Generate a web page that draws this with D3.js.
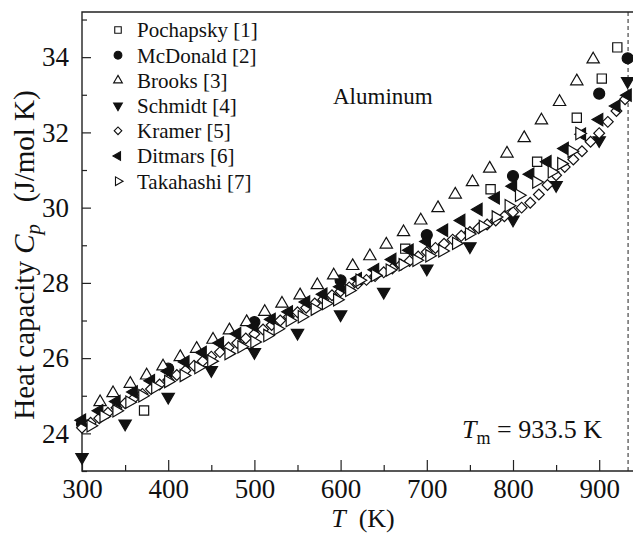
<!DOCTYPE html>
<html>
<head>
<meta charset="utf-8">
<script src="https://cdn.jsdelivr.net/npm/d3@7"></script>
<style>
  body { margin: 0; background: #fff; }
  svg text { font-family: "Liberation Serif", "Times New Roman", serif; fill: #111; }
</style>
</head>
<body>
<div id="chart"></div>
<script>
// series names (legend order)
var seriesNames = ["Pochapsky [1]", "McDonald [2]", "Brooks [3]", "Schmidt [4]", "Kramer [5]", "Ditmars [6]", "Takahashi [7]"];

// [T (K), Cp (J/mol K)]
var pochapsky = [[372, 24.61], [493, 26.38], [675, 28.91], [774, 30.49], [828, 31.22], [874, 32.39], [903, 33.43], [921, 34.26]];
var mcdonald = [[300, 24.25], [400, 25.72], [500, 26.96], [600, 28.07], [700, 29.27], [800, 30.84], [900, 33.03], [933, 33.97]];
var brooks = [[321, 24.83], [336, 25.07], [356, 25.32], [375, 25.54], [394, 25.78], [414, 26.03], [433, 26.25], [452, 26.49],
  [471, 26.74], [491, 26.96], [512, 27.23], [532, 27.45], [553, 27.67], [573, 27.94], [592, 28.2], [614, 28.45],
  [634, 28.71], [653, 29.02], [673, 29.35], [693, 29.66], [713, 29.99], [733, 30.35], [753, 30.68], [773, 31.04],
  [793, 31.44], [813, 31.85], [833, 32.32], [854, 32.81], [874, 33.36], [893, 33.94]];
var schmidt = [[300, 23.37], [350, 24.26], [400, 24.97], [450, 25.68], [500, 26.16], [550, 26.67], [600, 27.16], [650, 27.76],
  [700, 28.38], [750, 28.97], [800, 29.68], [850, 30.6], [900, 31.79], [933, 33.36]];
var kramer = [[300, 24.15], [310, 24.28], [320, 24.4], [330, 24.55], [340, 24.68], [350, 24.8], [360, 24.93], [370, 25.05],
  [380, 25.18], [390, 25.3], [400, 25.42], [410, 25.55], [420, 25.67], [430, 25.8], [440, 25.92], [450, 26.04],
  [460, 26.16], [470, 26.28], [480, 26.4], [490, 26.52], [500, 26.64], [510, 26.76], [520, 26.88], [530, 27.0],
  [540, 27.1], [550, 27.22], [560, 27.34], [570, 27.45], [580, 27.56], [590, 27.67], [600, 27.78], [610, 27.88],
  [620, 27.98], [630, 28.08], [640, 28.18], [650, 28.28], [660, 28.38], [670, 28.48], [680, 28.58], [690, 28.7],
  [700, 28.82], [710, 28.93], [720, 29.04], [730, 29.15], [740, 29.25], [750, 29.35], [760, 29.45], [770, 29.55],
  [780, 29.66], [790, 29.77], [800, 29.88], [810, 30.0], [820, 30.13], [830, 30.35], [840, 30.6], [850, 30.86],
  [860, 31.08], [870, 31.28], [880, 31.5], [890, 31.75], [900, 31.98], [910, 32.28], [920, 32.57], [930, 32.88]];
var ditmars = [[300, 24.35], [320, 24.6], [340, 24.85], [360, 25.1], [380, 25.4], [400, 25.65], [420, 25.9], [440, 26.15],
  [460, 26.4], [480, 26.65], [500, 26.85], [520, 27.03], [540, 27.23], [560, 27.49], [580, 27.7], [600, 27.9],
  [620, 28.11], [640, 28.35], [660, 28.62], [680, 28.87], [700, 29.1], [720, 29.4], [740, 29.66], [760, 29.95],
  [780, 30.26], [800, 30.57], [820, 30.89], [840, 31.22], [860, 31.57], [880, 31.95], [900, 32.34], [920, 32.7], [933, 32.99]];
var takahashi = [[310, 24.2], [325, 24.45], [340, 24.6], [355, 24.83], [370, 25.0], [385, 25.22], [400, 25.38], [418, 25.54],
  [435, 25.75], [450, 25.92], [470, 26.12], [485, 26.3], [500, 26.43], [515, 26.6], [527, 26.78], [541, 27.0],
  [555, 27.1], [570, 27.3], [583, 27.45], [596, 27.55], [610, 27.8], [622, 28.07], [640, 28.2], [657, 28.34],
  [672, 28.48], [688, 28.6], [703, 28.72], [718, 28.85], [734, 29.05], [749, 29.3], [765, 29.5], [780, 29.75],
  [795, 30.05], [807, 30.33], [827, 30.68], [845, 30.95], [856, 31.17], [868, 31.5], [877, 31.97]];

var xTicks = [300, 400, 500, 600, 700, 800, 900];
var yTicks = [24, 26, 28, 30, 32, 34];
var meltT = 933.5;

var allSeries = [pochapsky, mcdonald, brooks, schmidt, kramer, ditmars, takahashi];

var W = 633, H = 533;
var plotLeft = 82, plotTop = 12, plotBottom = 471;

var svg = d3.select("#chart").append("svg")
    .attr("width", W)
    .attr("height", H);

var x = d3.scaleLinear().domain([300, 940]).range([plotLeft, plotLeft + 640 * 0.862]);
var y = d3.scaleLinear().domain([23, 35.2]).range([plotBottom, plotTop]);

// marker styles: symbol, rotation, filled
var markers = [
    {type: d3.symbolSquare, size: 85, rot: 0, fill: false},
    {type: d3.symbolCircle, size: 95, rot: 0, fill: true},
    {type: d3.symbolTriangle, size: 66, rot: 0, fill: false},
    {type: d3.symbolTriangle, size: 66, rot: 180, fill: true},
    {type: d3.symbolSquare, size: 58, rot: 45, fill: false},
    {type: d3.symbolTriangle, size: 66, rot: -90, fill: true},
    {type: d3.symbolTriangle, size: 66, rot: 90, fill: false}
];

// axes (ticks point inward)
svg.append("g")
    .attr("transform", "translate(0," + plotBottom + ")")
    .call(d3.axisBottom(x).tickValues(xTicks).tickSize(-11).tickSizeOuter(0).tickPadding(8).tickFormat(d3.format("d")));
svg.append("g")
    .attr("transform", "translate(0," + plotBottom + ")")
    .call(d3.axisBottom(x).tickValues(d3.range(350, 950, 100)).tickSize(-6).tickSizeOuter(0).tickFormat(""));
svg.append("g")
    .attr("transform", "translate(" + plotLeft + ",0)")
    .call(d3.axisLeft(y).tickValues(yTicks).tickSize(-9).tickSizeOuter(0).tickPadding(13).tickFormat(d3.format("d")));
svg.append("g")
    .attr("transform", "translate(" + plotLeft + ",0)")
    .call(d3.axisLeft(y).tickValues([23, 25, 27, 29, 31, 33, 35]).tickSize(-5).tickSizeOuter(0).tickFormat(""));

svg.selectAll(".domain").remove();
svg.selectAll(".tick line").attr("stroke", "#222").attr("stroke-width", 1.2);
svg.selectAll(".tick text").style("font-size", "27px").attr("fill", "#111");

// frame
svg.append("path")
    .attr("d", "M" + W + "," + plotTop + "H" + plotLeft + "V" + plotBottom + "H" + W)
    .attr("fill", "none")
    .attr("stroke", "#222")
    .attr("stroke-width", 1.4);

// melting point line
svg.append("line")
    .attr("x1", x(meltT)).attr("x2", x(meltT))
    .attr("y1", plotTop).attr("y2", plotBottom)
    .attr("stroke", "#222")
    .attr("stroke-width", 1)
    .attr("stroke-dasharray", "4,3");

// data points
allSeries.forEach(function(data, k) {
    var m = markers[k];
    svg.append("g").selectAll("path")
        .data(data)
        .enter()
        .append("path")
        .attr("d", d3.symbol().type(m.type).size(m.size))
        .attr("transform", function(d) { return "translate(" + x(d[0]) + "," + y(d[1]) + ") rotate(" + m.rot + ")"; })
        .attr("fill", m.fill ? "#111" : "#fff")
        .attr("stroke", "#111")
        .attr("stroke-width", 1.2);
});

// legend
var legend = svg.append("g");
seriesNames.forEach(function(name, k) {
    var m = markers[k];
    var ly = 30 + k * 25.2;
    legend.append("path")
        .attr("d", d3.symbol().type(m.type).size(m.size * 0.5))
        .attr("transform", "translate(118," + ly + ") rotate(" + m.rot + ")")
        .attr("fill", m.fill ? "#111" : "#fff")
        .attr("stroke", "#111")
        .attr("stroke-width", 1.1);
    legend.append("text")
        .attr("x", 137)
        .attr("y", ly)
        .attr("dy", "0.35em")
        .style("font-size", "21px")
        .text(name);
});

// annotations
svg.append("text")
    .attr("x", 333).attr("y", 104)
    .style("font-size", "23px")
    .text("Aluminum");

var tm = svg.append("text")
    .attr("x", 462).attr("y", 438)
    .style("font-size", "26px");
tm.append("tspan").style("font-style", "italic").text("T");
tm.append("tspan").attr("dy", 6).style("font-size", "18px").text("m");
tm.append("tspan").attr("dy", -6).text(" = 933.5 K");

// axis titles
var xl = svg.append("text")
    .attr("x", 363).attr("y", 527)
    .attr("text-anchor", "middle")
    .style("font-size", "26px");
xl.append("tspan").style("font-style", "italic").text("T");
xl.append("tspan").text("\u00a0 (K)");

var yl = svg.append("text")
    .attr("transform", "translate(34,255) rotate(-90)")
    .attr("text-anchor", "middle")
    .style("font-size", "29px");
yl.append("tspan").text("Heat capacity ");
yl.append("tspan").style("font-style", "italic").text("C");
yl.append("tspan").attr("dy", 6).style("font-style", "italic").style("font-size", "21px").text("p");
yl.append("tspan").attr("dy", -6).text("\u00a0\u00a0 (J/mol K)");
</script>
</body>
</html>
